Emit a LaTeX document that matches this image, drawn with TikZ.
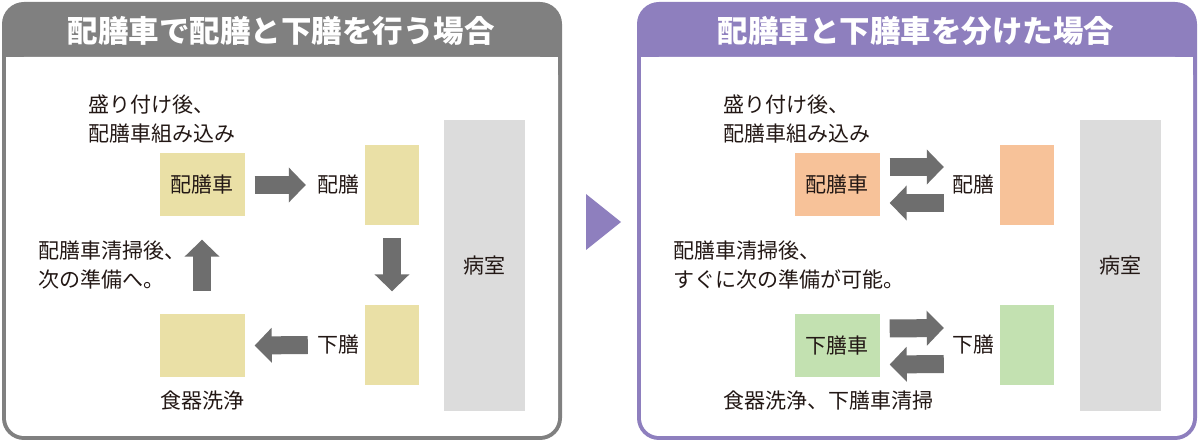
\documentclass[tikz,border=0pt]{standalone}
\usepackage{fontspec}
\setmainfont{Noto Sans CJK JP}
\usetikzlibrary{arrows.meta}
\definecolor{hdgray}{HTML}{808080}
\definecolor{hdpurple}{HTML}{8E7FBE}
\definecolor{trayyellow}{HTML}{EAE0A6}
\definecolor{trayorange}{HTML}{F7C299}
\definecolor{traygreen}{HTML}{C3E1B1}
\definecolor{roomgray}{HTML}{DCDCDC}
\definecolor{arrowgray}{HTML}{6E6E6E}
\definecolor{txtdark}{HTML}{231815}
\tikzset{
  lbl/.style={font=\fontsize{21}{29}\selectfont, text=txtdark, inner sep=0pt},
  title/.style={font=\fontsize{30.5}{31}\selectfont\bfseries, text=white, inner sep=0pt},
  cartbox/.style={lbl, fill=#1, minimum width=85pt, minimum height=63pt},
  traybox/.style={fill=#1, minimum width=54pt, minimum height=80pt, inner sep=0pt},
  roombox/.style={lbl, fill=roomgray, minimum width=81pt, minimum height=291pt},
  fatarrow/.style={line width=18pt, draw=arrowgray, -{Triangle[width=34pt,length=17pt]}}
}
\begin{document}
\begin{tikzpicture}[x=1pt, y=-1pt]
	\useasboundingbox (0,0) rectangle (1200,443);
	% left panel
	\fill[hdgray, rounded corners=22] (2,2) rectangle (562,440);
	\fill[white, rounded corners=18] (6,57) rectangle (558,436);
	\fill[white] (6,57) rectangle (558,90);
	\node[title] (titleA) at (281,31) {配膳車で配膳と下膳を行う場合};
	\node[lbl, anchor=west, align=left] (noteA) at (88,119) {盛り付け後、\\配膳車組み込み};
	\node[cartbox=trayyellow] (carA) at (202,185) {配膳車};
	\node[lbl] (serveA) at (338,185) {配膳};
	\node[traybox=trayyellow] (slotA) at (392,185) {};
	\node[roombox] (roomA) at (484.5,265.5) {病室};
	\node[traybox=trayyellow] (slotB) at (392,345.5) {};
	\node[lbl] (clearA) at (338,345) {下膳};
	\node[cartbox=trayyellow] (washA) at (202,345.5) {};
	\node[lbl] (washlblA) at (202,401) {食器洗浄};
	\node[lbl, anchor=west, align=left] (cleanA) at (38,265) {配膳車清掃後、\\次の準備へ。};
	\draw[fatarrow] ([xshift=10pt]carA.east) -- ([xshift=-11pt]serveA.west);
	\draw[fatarrow] ([yshift=-13pt]slotA.south) -- ([yshift=14pt]slotB.north);
	\draw[fatarrow] ([xshift=-9pt]clearA.west) -- ([xshift=10pt]washA.east);
	\draw[fatarrow] ([yshift=23pt]washA.north) -- ([yshift=-23pt]carA.south);
	% arrow between panels
	\fill[hdpurple] (586,194) -- (621,222) -- (586,250) -- cycle;
	% right panel
	\fill[hdpurple, rounded corners=22] (637,2) rectangle (1197,440);
	\fill[white, rounded corners=18] (641,57) rectangle (1193,436);
	\fill[white] (641,57) rectangle (1193,90);
	\node[title] (titleB) at (916,31) {配膳車と下膳車を分けた場合};
	\node[lbl, anchor=west, align=left] (noteB) at (723,119) {盛り付け後、\\配膳車組み込み};
	\node[cartbox=trayorange] (carB) at (837,185) {配膳車};
	\node[lbl] (serveB) at (973,185) {配膳};
	\node[traybox=trayorange] (slotC) at (1027,185) {};
	\node[roombox] (roomB) at (1120.5,265.5) {病室};
	\node[lbl, anchor=west, align=left] (cleanB) at (673,265) {配膳車清掃後、\\すぐに次の準備が可能。};
	\node[cartbox=traygreen] (carC) at (837,345.5) {下膳車};
	\node[lbl] (clearB) at (973,345) {下膳};
	\node[traybox=traygreen] (slotD) at (1027,345.5) {};
	\node[lbl] (washlblB) at (828,401) {食器洗浄、下膳車清掃};
	\draw[fatarrow] ([xshift=10pt, yshift=18pt]carB.east) -- ([xshift=-8pt, yshift=18pt]serveB.west);
	\draw[fatarrow] ([xshift=-8pt, yshift=-18pt]serveB.west) -- ([xshift=10pt, yshift=-18pt]carB.east);
	\draw[fatarrow] ([xshift=10pt, yshift=17pt]carC.east) -- ([xshift=-8pt, yshift=17pt]clearB.west);
	\draw[fatarrow] ([xshift=-8pt, yshift=-19pt]clearB.west) -- ([xshift=10pt, yshift=-19pt]carC.east);
\end{tikzpicture}
\end{document}
